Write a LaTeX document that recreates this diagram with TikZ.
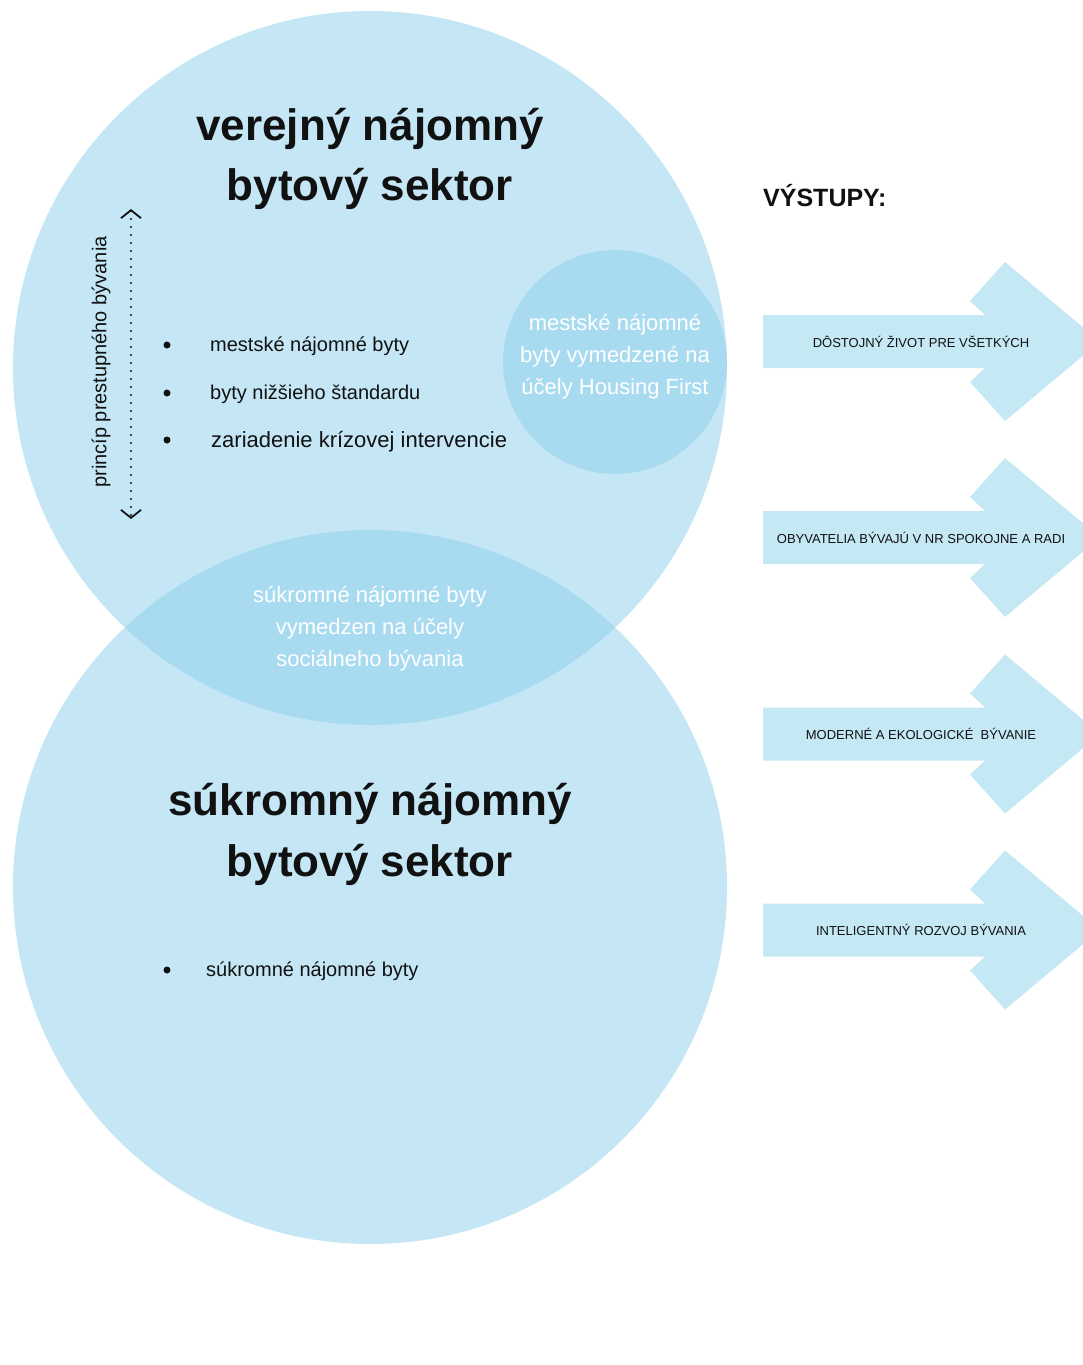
\documentclass[tikz,border=0pt]{standalone}
\usepackage{fontspec}
\setmainfont{Liberation Sans}
\usetikzlibrary{arrows.meta}
\definecolor{kruhmodra}{RGB}{139,207,235}
\definecolor{sipkamodra}{RGB}{197,232,245}
\definecolor{pismo}{RGB}{17,17,17}
\tikzset{
  kruh/.style={fill=kruhmodra,fill opacity=0.5},
  nadpis/.style={font=\fontsize{44}{60}\selectfont\bfseries,text=pismo,anchor=base},
  polozka/.style={font=\fontsize{20}{24}\selectfont,text=pismo,anchor=base west,inner sep=0pt},
  bielytext/.style={font=\fontsize{22}{32}\selectfont,text=white,align=center},
  vystup/.style={font=\fontsize{13}{15}\selectfont,text=pismo},
  hrot/.tip={Straight Barb[length=8pt,width=20pt,line width=1.8pt]},
}
\begin{document}
\begin{tikzpicture}[x=1pt,y=-1pt]
  \useasboundingbox (0,0) rectangle (1082,1365);
  % kruhy
  \fill[kruh] (370,368) circle (357pt);
  \fill[kruh] (370,887) circle (357pt);
  \fill[kruh] (615,362) circle (112pt);
  % nadpisy sektorov
  \node[nadpis] (verejny1) at (370,140) {verejný nájomný};
  \node[nadpis] (verejny2) at (370,200) {bytový sektor};
  \node[nadpis] (sukromny1) at (370,815) {súkromný nájomný};
  \node[nadpis] (sukromny2) at (370,876) {bytový sektor};
  % odrazky
  \fill[pismo] (167,345) circle (3.5pt);
  \node[polozka] (mestske) at (210,351) {mestské nájomné byty};
  \fill[pismo] (167,393) circle (3.5pt);
  \node[polozka] (nizsi) at (210,399) {byty nižšieho štandardu};
  \fill[pismo] (167,440) circle (3.5pt);
  \node[polozka,font=\fontsize{22}{24}\selectfont] (krizova) at (211,447) {zariadenie krízovej intervencie};
  \fill[pismo] (167,970) circle (3.5pt);
  \node[polozka] (sukromne) at (206,976) {súkromné nájomné byty};
  % texty v prienikoch
  \node[bielytext] (housing) at (615,357) {mestské nájomné\\byty vymedzené na\\účely Housing First};
  \node[bielytext] (socialne) at (370,629) {súkromné nájomné byty\\vymedzen na účely\\sociálneho bývania};
  % princip prestupneho byvania
  \node[rotate=90,font=\fontsize{20}{24}\selectfont,text=pismo] (princip) at (101,362) {princíp prestupného bývania};
  \coordinate (horne) at (131,209);
  \coordinate (dolne) at (131,519);
  \draw[pismo,line width=2.2pt,line cap=round,dash pattern=on 0pt off 8pt,hrot-hrot] (horne) -- (dolne);
  % vystupy
  \node[font=\fontsize{25}{30}\selectfont\bfseries,text=pismo,anchor=base west,inner sep=0pt] (vystupy) at (763,206) {VÝSTUPY:};
  \foreach \y/\t [count=\i] in {341.5/{DÔSTOJNÝ ŽIVOT PRE VŠETKÝCH},
      537.5/{OBYVATELIA BÝVAJÚ V NR SPOKOJNE A RADI},
      734/{MODERNÉ A EKOLOGICKÉ\ \ BÝVANIE},
      930/{INTELIGENTNÝ ROZVOJ BÝVANIA}} {
    \fill[sipkamodra] (763,\y-26.5) -- (985,\y-26.5) -- (970,\y-40.5) -- (1005,\y-79.5)
      -- (1100,\y) -- (1005,\y+79.5) -- (970,\y+40.5) -- (985,\y+26.5) -- (763,\y+26.5) -- cycle;
    \node[vystup] (vystup-\i) at (921,\y) {\t};
  }
\end{tikzpicture}
\end{document}
